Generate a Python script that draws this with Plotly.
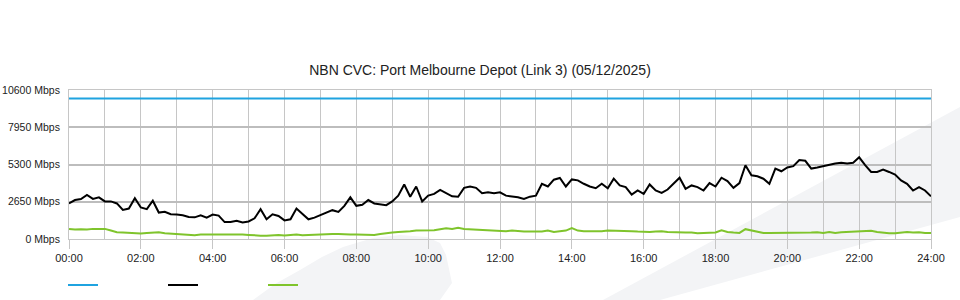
import pandas as pd
import plotly.graph_objects as go

# ---------------- data ----------------
times = pd.date_range("2025-12-05 00:00", "2025-12-06 00:00", freq="10min")

capacity_x = ["2025-12-05 00:00", "2025-12-06 00:00"]
capacity_mbps = [10000, 10000]

download_mbps = [
    2530, 2770, 2845, 3130, 2850, 2965,
    2675, 2675, 2530, 2070, 2170, 2900,
    2240, 2120, 2720, 1880, 1930, 1760,
    1735, 1690, 1570, 1540, 1690, 1520,
    1735, 1665, 1205, 1205, 1300, 1180,
    1250, 1470, 2120, 1400, 1760, 1640,
    1325, 1400, 2170, 1760, 1400, 1520,
    1710, 1880, 2050, 1930, 2360, 2965,
    2360, 2430, 2770, 2530, 2480, 2410,
    2675, 3085, 3880, 3010, 3735, 2675,
    3085, 3205, 3495, 3255, 3035, 3010,
    3640, 3735, 3640, 3255, 3325, 3255,
    3325, 3085, 3035, 2965, 2845, 3010,
    3085, 3930, 3735, 4220, 4340, 3735,
    4240, 4170, 3930, 3735, 3615, 3930,
    3615, 4290, 3810, 3690, 3160, 3450,
    3205, 3880, 3450, 3280, 3520, 3930,
    4360, 3570, 3810, 3690, 3450, 3980,
    3735, 4360, 4120, 3640, 3980, 5250,
    4530, 4460, 4290, 3930, 5010, 4820,
    5085, 5180, 5615, 5565, 5010, 5085,
    5180, 5325, 5375, 5420, 5375, 5420,
    5810, 5255, 4770, 4770, 4940, 4770,
    4580, 4170, 3930, 3450, 3690, 3450,
    3035,
]

upload_mbps = [
    720, 675, 700, 675, 720, 700,
    720, 600, 480, 460, 435, 460,
    385, 435, 460, 480, 410, 385,
    360, 360, 315, 265, 315, 315,
    315, 360, 360, 315, 315, 315,
    290, 240, 240, 240, 290, 290,
    255, 265, 315, 265, 290, 265,
    290, 315, 360, 360, 315, 315,
    315, 315, 315, 290, 360, 435,
    460, 505, 505, 555, 600, 600,
    625, 625, 700, 770, 720, 795,
    720, 700, 675, 650, 650, 625,
    600, 555, 600, 555, 530, 530,
    530, 530, 600, 505, 555, 600,
    780, 600, 555, 555, 530, 555,
    600, 600, 580, 580, 555, 530,
    505, 505, 530, 555, 505, 480,
    480, 460, 460, 410, 435, 435,
    460, 625, 505, 460, 435, 700,
    600, 505, 435, 435, 435, 410,
    410, 435, 435, 410, 460, 480,
    435, 505, 435, 480, 505, 530,
    505, 555, 580, 505, 435, 410,
    410, 480, 505, 460, 480, 435,
    435,
]

y_tick_vals = [0, 2650, 5300, 7950, 10600]
y_tick_text = ["0 Mbps", "2650 Mbps", "5300 Mbps", "7950 Mbps", "10600 Mbps"]
x_tick_vals = pd.date_range("2025-12-05 00:00", "2025-12-06 00:00", freq="2h")
x_tick_text = ["00:00", "02:00", "04:00", "06:00", "08:00", "10:00", "12:00",
               "14:00", "16:00", "18:00", "20:00", "22:00", "24:00"]
x_minor_vals = pd.date_range("2025-12-05 01:00", "2025-12-05 23:00", freq="2h")

title_text = "NBN CVC: Port Melbourne Depot (Link 3) (05/12/2025)"

# ---------------- figure ----------------
W, H = 960, 300
ML, MR, MT, MB = 69, 29, 90, 61
PW, PH = W - ML - MR, H - MT - MB


def to_paper(pts):
    return [((px - ML) / PW, (H - MB - py) / PH) for px, py in pts]


def path_from(pts):
    p = to_paper(pts)
    s = "M %.4f,%.4f " % p[0]
    s += " ".join("L %.4f,%.4f" % q for q in p[1:])
    return s + " Z"


blob_px = [(253, 300), (275, 284), (300, 270), (322, 257), (343, 247), (373, 238),
           (400, 235), (427, 237), (440, 243), (446, 255), (452, 283), (440, 300)]
band_px = [(603, 300), (960, 107), (960, 217), (660, 300)]

fig = go.Figure()
fig.add_trace(go.Scatter(x=capacity_x, y=capacity_mbps, mode="lines", name="",
                         line=dict(color="#1fa3e0", width=2)))
fig.add_trace(go.Scatter(x=times, y=download_mbps, mode="lines", name="",
                         line=dict(color="#000000", width=2)))
fig.add_trace(go.Scatter(x=times, y=upload_mbps, mode="lines", name="",
                         line=dict(color="#7fc42c", width=2)))

grid_c = "#c6c6c6"
fig.update_layout(
    width=W, height=H,
    margin=dict(l=ML, r=MR, t=MT, b=MB, pad=0, autoexpand=False),
    paper_bgcolor="#ffffff",
    plot_bgcolor="rgba(0,0,0,0)",
    font=dict(family="Liberation Sans, Arial, sans-serif", size=11, color="#333333"),
    title=dict(text=title_text, x=0.5, xref="container", xanchor="center",
               y=1 - 70 / H, yref="container", yanchor="middle",
               font=dict(size=14, color="#222222")),
    showlegend=True,
    legend=dict(orientation="h", x=-6 / PW, xanchor="left", y=(H - MB - 285) / PH,
                yanchor="middle", entrywidth=55, entrywidthmode="pixels",
                bgcolor="rgba(0,0,0,0)", font=dict(size=10)),
    shapes=[
        dict(type="path", xref="paper", yref="paper", path=path_from(blob_px),
             fillcolor="#f3f4f6", line=dict(width=0), layer="below"),
        dict(type="path", xref="paper", yref="paper", path=path_from(band_px),
             fillcolor="#f3f4f6", line=dict(width=0), layer="below"),
    ],
)
fig.update_xaxes(
    range=["2025-12-05 00:00", "2025-12-06 00:00"], automargin=False,
    tickvals=x_tick_vals, ticktext=x_tick_text,
    showgrid=True, gridcolor=grid_c, gridwidth=1,
    ticks="outside", ticklen=9, tickcolor=grid_c, tickwidth=1,
    minor=dict(tickvals=x_minor_vals, showgrid=True, gridcolor=grid_c, gridwidth=1,
               ticks=""),
    showline=True, linecolor=grid_c, linewidth=1, mirror=True,
    zeroline=False, tickfont=dict(size=11, color="#222222"),
)
fig.update_yaxes(
    range=[0, 10600], automargin=False,
    tickvals=y_tick_vals, ticktext=y_tick_text,
    showgrid=True, gridcolor="#bdbdbd", gridwidth=2,
    ticks="", ticklabelstandoff=6,
    showline=True, linecolor=grid_c, linewidth=1, mirror=True,
    zeroline=False, tickfont=dict(size=10.5, color="#222222"),
)

fig.write_html("out.html")
